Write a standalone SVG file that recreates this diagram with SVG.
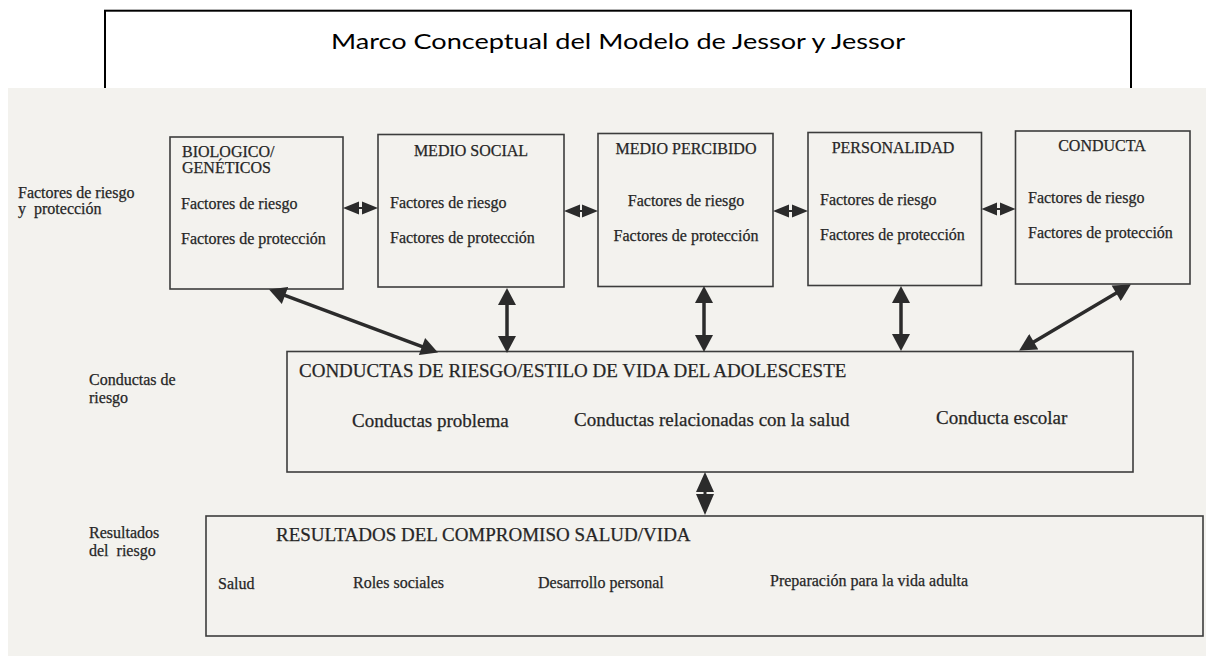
<svg xmlns="http://www.w3.org/2000/svg" width="1206" height="659" viewBox="0 0 1206 659">
<style>
.t{font-family:"Liberation Serif","Times New Roman",serif;fill:#262626;stroke:#262626;stroke-width:0.25}
.s16{font-size:16px}
.s19{font-size:19px}
.m{text-anchor:middle}
.box{fill:none;stroke:#3c3c3c;stroke-width:1.6}
.con{stroke:#2b2b2b;stroke-width:3.5;fill:none}
.head{fill:#2b2b2b}
</style>
<defs>
<marker id="ah" markerUnits="userSpaceOnUse" markerWidth="18" markerHeight="18" viewBox="0 0 17 18" refX="8" refY="9" orient="auto-start-reverse">
<path d="M0,0 L17,9 L0,18 z" fill="#2b2b2b"/>
</marker>
</defs>
<rect width="1206" height="659" fill="#ffffff"/>
<g id="title">
<rect x="105" y="10.7" width="1026" height="100" fill="#ffffff" stroke="#000000" stroke-width="2"/>
<text x="618" y="49" font-family="Lato,'Open Sans',sans-serif" font-size="22" text-anchor="middle" textLength="574" lengthAdjust="spacingAndGlyphs" fill="#000000">Marco Conceptual del Modelo de Jessor y Jessor</text>
</g>
<rect id="scan" x="8" y="88" width="1198" height="568" fill="#f3f2ee"/>
<g id="labels">
<text class="t s16" x="18" y="198">Factores de riesgo</text>
<text class="t s16" x="18" y="214" xml:space="preserve">y  protección</text>
<text class="t s16" x="89" y="385">Conductas de</text>
<text class="t s16" x="89" y="403">riesgo</text>
<text class="t s16" x="89" y="538">Resultados</text>
<text class="t s16" x="89" y="556" xml:space="preserve">del  riesgo</text>
</g>
<g id="biologico">
<rect class="box" x="170" y="137" width="173" height="152"/>
<text class="t s16" x="182" y="157">BIOLOGICO/</text>
<text class="t s16" x="182" y="173">GENÉTICOS</text>
<text class="t s16" x="181" y="209">Factores de riesgo</text>
<text class="t s16" x="181" y="244">Factores de protección</text>
</g>
<g id="medio-social">
<rect class="box" x="378" y="134.5" width="186" height="152.5"/>
<text class="t s16 m" x="471" y="156">MEDIO SOCIAL</text>
<text class="t s16" x="390" y="208">Factores de riesgo</text>
<text class="t s16" x="390" y="243">Factores de protección</text>
</g>
<g id="medio-percibido">
<rect class="box" x="598" y="133.5" width="175" height="153"/>
<text class="t s16 m" x="686" y="154">MEDIO PERCIBIDO</text>
<text class="t s16 m" x="686" y="206">Factores de riesgo</text>
<text class="t s16 m" x="686" y="241">Factores de protección</text>
</g>
<g id="personalidad">
<rect class="box" x="808" y="132.5" width="173.5" height="153"/>
<text class="t s16 m" x="893" y="153">PERSONALIDAD</text>
<text class="t s16" x="820" y="205">Factores de riesgo</text>
<text class="t s16" x="820" y="240">Factores de protección</text>
</g>
<g id="conducta">
<rect class="box" x="1015.5" y="131" width="174.5" height="153"/>
<text class="t s16 m" x="1102" y="151">CONDUCTA</text>
<text class="t s16" x="1028" y="203">Factores de riesgo</text>
<text class="t s16" x="1028" y="238">Factores de protección</text>
</g>
<g id="conductas-riesgo">
<rect class="box" x="287" y="351.5" width="846" height="120.5"/>
<text class="t s19" x="299" y="377">CONDUCTAS DE RIESGO/ESTILO DE VIDA DEL ADOLESCESTE</text>
<text class="t s19" x="352" y="427">Conductas problema</text>
<text class="t s19" x="574" y="426">Conductas relacionadas con la salud</text>
<text class="t s19" x="936" y="424">Conducta escolar</text>
</g>
<g id="resultados">
<rect class="box" x="206" y="516" width="997" height="120"/>
<text class="t s19" x="276" y="541">RESULTADOS DEL COMPROMISO SALUD/VIDA</text>
<text class="t s16" x="218" y="589">Salud</text>
<text class="t s16" x="353" y="588">Roles sociales</text>
<text class="t s16" x="538" y="588">Desarrollo personal</text>
<text class="t s16" x="770" y="586">Preparación para la vida adulta</text>
</g>
<g id="connectors">
<g class="head">
<path d="M343,208 L359,201.5 L359,214.5 z M378,208 L362,201.5 L362,214.5 z"/>
<path d="M564,211 L580,204.5 L580,217.5 z M598,211 L582,204.5 L582,217.5 z"/>
<path d="M773,211 L789,204.5 L789,217.5 z M808,211 L792,204.5 L792,217.5 z"/>
<path d="M981.5,209 L997,202.5 L997,215.5 z M1015.5,209 L1000,202.5 L1000,215.5 z"/>
</g>
<g stroke="#2b2b2b" stroke-width="2">
<line x1="358" y1="208" x2="363" y2="208"/>
<line x1="579" y1="211" x2="583" y2="211"/>
<line x1="788" y1="211" x2="793" y2="211"/>
<line x1="996" y1="209" x2="1001" y2="209"/>
</g>
<line class="con" x1="277.5" y1="292.7" x2="429.5" y2="349.3" marker-start="url(#ah)" marker-end="url(#ah)"/>
<line class="con" x1="507" y1="297" x2="507" y2="344" marker-start="url(#ah)" marker-end="url(#ah)"/>
<line class="con" x1="704" y1="295" x2="704" y2="343" marker-start="url(#ah)" marker-end="url(#ah)"/>
<line class="con" x1="901" y1="295" x2="901" y2="342" marker-start="url(#ah)" marker-end="url(#ah)"/>
<line class="con" stroke-width="3" x1="1123.1" y1="289.1" x2="1026.9" y2="345.9" marker-start="url(#ah)" marker-end="url(#ah)"/>
<path class="head" d="M705,472 L714,492 L696,492 z M705,515 L714,494 L696,494 z"/>
<line x1="705" y1="491" x2="705" y2="495" stroke="#2b2b2b" stroke-width="3"/>
</g>
</svg>
